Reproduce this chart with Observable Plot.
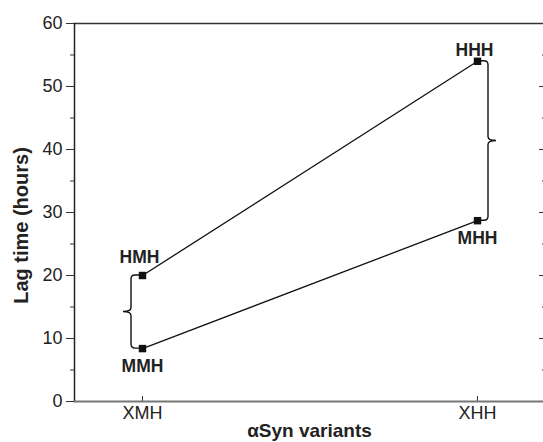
<!DOCTYPE html>
<html>
<head>
<meta charset="utf-8">
<script src="https://cdn.jsdelivr.net/npm/d3@7"></script>
<script src="https://cdn.jsdelivr.net/npm/@observablehq/plot@0.6"></script>
<style>
  html, body { margin: 0; padding: 0; background: #fff; }
  svg { display: block; }
</style>
</head>
<body>
<div id="chart"></div>
<script>
// ---- data ----
const variants = ["XMH", "XHH"];
const seriesH = ["HMH", "HHH"];       // upper line
const seriesHValues = [20, 54];
const seriesM = ["MMH", "MHH"];       // lower line
const seriesMValues = [8.4, 28.7];
const majorTicks = [0, 10, 20, 30, 40, 50, 60];
const minorTicks = [5, 15, 25, 35, 45, 55];
const xTitle = "αSyn variants";
const yTitle = "Lag time (hours)";

const points = [
  ...variants.map((v, i) => ({variant: v, name: seriesH[i], value: seriesHValues[i], line: "H", pos: "above"})),
  ...variants.map((v, i) => ({variant: v, name: seriesM[i], value: seriesMValues[i], line: "M", pos: "below"}))
];

// brace mark (drawn via the chart's scales)
function braceMark(variant, side) {
  return (index, scales) => {
    const top = points.find(p => p.variant === variant && p.line === "H");
    const bot = points.find(p => p.variant === variant && p.line === "M");
    const x0 = scales.x(variant);
    const ya = scales.y(top.value), yb = scales.y(bot.value);
    const ym = (ya + yb) / 2;
    const s = side === "left" ? -1 : 1;
    const xv = x0 + s * 11, xt = xv + s * 8, r = 4, t = 4;
    const d = `M${x0},${ya} H${xv - s * r} Q${xv},${ya} ${xv},${ya + r} V${ym - t} Q${xv},${ym} ${xt},${ym} Q${xv},${ym} ${xv},${ym + t} V${yb - r} Q${xv},${yb} ${xv - s * r},${yb} H${x0}`;
    return d3.create("svg:path").attr("d", d).attr("fill", "none")
      .attr("stroke", "#111").attr("stroke-width", 1.4).node();
  };
}

const font = "'Liberation Sans', Arial, Helvetica, sans-serif";

const chart = Plot.plot({
  width: 543,
  height: 442,
  marginLeft: 74,
  marginRight: -1,
  marginTop: 23,
  marginBottom: 41,
  style: {fontFamily: font, background: "#fff", color: "#222"},
  x: {type: "point", domain: variants, padding: 0.2, axis: null},
  y: {domain: [0, 60], axis: null},
  marks: [
    // frame lines
    Plot.ruleY([60], {stroke: "#333", strokeWidth: 1.5}),
    Plot.frame({anchor: "left", stroke: "#222", strokeWidth: 1.5}),
    // left axis
    Plot.axisY({ticks: majorTicks, tickSize: 8, tickPadding: 4, fontSize: 18, label: null, stroke: "#333", fill: "#222"}),
    Plot.axisY({ticks: minorTicks, tickSize: 4, tickFormat: () => "", label: null, stroke: "#333"}),
    // right axis (inward ticks)
    Plot.axisY({anchor: "right", ticks: majorTicks, tickSize: 6, dx: -6, tickFormat: () => "", label: null, stroke: "#333"}),
    Plot.axisY({anchor: "right", ticks: minorTicks, tickSize: 3, dx: -3, tickFormat: () => "", label: null, stroke: "#333"}),
    // bottom axis
    Plot.axisX({ticks: variants, tickSize: 5, dy: -5, tickFormat: () => "", label: null, stroke: "#333"}),
    Plot.axisX({ticks: variants, tickSize: 0, tickPadding: 5, fontSize: 18, label: null, fill: "#222"}),
    Plot.ruleY([0], {stroke: "#777", strokeWidth: 2}),
    // axis titles
    Plot.text([yTitle], {frameAnchor: "left", textAnchor: "middle", lineAnchor: "middle", dx: -53, dy: 13, rotate: -90, fontSize: 20, fontWeight: "bold", fill: "#222"}),
    Plot.text([xTitle], {frameAnchor: "bottom", textAnchor: "middle", lineAnchor: "middle", dy: 29, fontSize: 19, fontWeight: "bold", fill: "#222"}),
    // data lines
    Plot.line(points, {x: "variant", y: "value", z: "line", stroke: "#111", strokeWidth: 1.3}),
    // braces
    braceMark("XMH", "left"),
    braceMark("XHH", "right"),
    // markers
    Plot.dot(points, {x: "variant", y: "value", symbol: "square", r: 4.2, fill: "#111", stroke: null}),
    // labels
    Plot.text(points.filter(p => p.pos === "above" && p.variant === "XMH"), {x: "variant", y: "value", text: "name", dx: -3, dy: -18, fontSize: 17.5, fontWeight: "bold", fill: "#222"}),
    Plot.text(points.filter(p => p.pos === "above" && p.variant === "XHH"), {x: "variant", y: "value", text: "name", dx: -3, dy: -11, fontSize: 17.5, fontWeight: "bold", fill: "#222"}),
    Plot.text(points.filter(p => p.pos === "below"), {x: "variant", y: "value", text: "name", dx: 0, dy: 18, fontSize: 17.5, fontWeight: "bold", fill: "#222"})
  ]
});
document.getElementById("chart").appendChild(chart);
</script>
</body>
</html>
